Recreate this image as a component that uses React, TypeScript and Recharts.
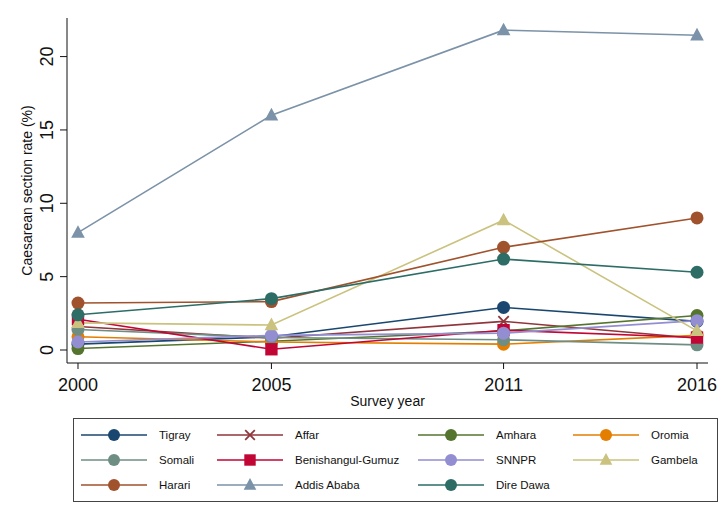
import React from 'react';
import { LineChart, Line, XAxis, YAxis } from 'recharts';

const years = [2000, 2005, 2011, 2016];
const yTicks = [0, 5, 10, 15, 20];

const tigray = [0.4, 0.9, 2.9, 1.95];
const affar = [1.6, 0.8, 1.95, 0.8];
const amhara = [0.1, 0.6, 1.3, 2.35];
const oromia = [0.9, 0.55, 0.4, 1.0];
const somali = [1.4, 0.85, 0.7, 0.35];
const benishangul = [2.1, 0.05, 1.35, 0.85];
const snnpr = [0.55, 1.0, 1.15, 2.0];
const gambela = [1.85, 1.7, 8.85, 1.3];
const harari = [3.2, 3.3, 7.0, 9.0];
const addisAbaba = [8.0, 16.0, 21.8, 21.45];
const direDawa = [2.4, 3.5, 6.2, 5.3];

type Shape = 'circle' | 'x' | 'square' | 'triangle';

const series: { key: string; name: string; values: number[]; color: string; shape: Shape }[] = [
  { key: 'tigray', name: 'Tigray', values: tigray, color: '#1a476f', shape: 'circle' },
  { key: 'affar', name: 'Affar', values: affar, color: '#90353b', shape: 'x' },
  { key: 'amhara', name: 'Amhara', values: amhara, color: '#55752f', shape: 'circle' },
  { key: 'oromia', name: 'Oromia', values: oromia, color: '#e37e00', shape: 'circle' },
  { key: 'somali', name: 'Somali', values: somali, color: '#6e8e84', shape: 'circle' },
  { key: 'benishangul', name: 'Benishangul-Gumuz', values: benishangul, color: '#c10534', shape: 'square' },
  { key: 'snnpr', name: 'SNNPR', values: snnpr, color: '#938dd2', shape: 'circle' },
  { key: 'gambela', name: 'Gambela', values: gambela, color: '#cac27e', shape: 'triangle' },
  { key: 'harari', name: 'Harari', values: harari, color: '#a0522d', shape: 'circle' },
  { key: 'addis', name: 'Addis Ababa', values: addisAbaba, color: '#7b92a8', shape: 'triangle' },
  { key: 'direDawa', name: 'Dire Dawa', values: direDawa, color: '#2d6d66', shape: 'circle' },
];

const data = years.map((year, i) => {
  const row: Record<string, number> = { year };
  series.forEach((s) => {
    row[s.key] = s.values[i];
  });
  return row;
});

const FONT = '"Liberation Sans", Arial, sans-serif';

const Marker = ({ cx, cy, shape, color, size = 6.5 }: { cx: number; cy: number; shape: Shape; color: string; size?: number }) => {
  if (shape === 'circle') return <circle cx={cx} cy={cy} r={size} fill={color} />;
  if (shape === 'square') {
    const s = size * 0.95;
    return <rect x={cx - s} y={cy - s} width={s * 2} height={s * 2} fill={color} />;
  }
  if (shape === 'triangle') {
    const s = size * 1.05;
    return (
      <polygon
        points={`${cx},${cy - s * 1.1} ${cx - s},${cy + s * 0.75} ${cx + s},${cy + s * 0.75}`}
        fill={color}
      />
    );
  }
  const s = size * 0.8;
  return (
    <g stroke={color} strokeWidth={1.8}>
      <line x1={cx - s} y1={cy - s} x2={cx + s} y2={cy + s} />
      <line x1={cx - s} y1={cy + s} x2={cx + s} y2={cy - s} />
    </g>
  );
};

// y tick labels are turned on their side, like the original
const YTick = ({ x, y, payload }: any) => (
  <text
    x={x - 5}
    y={y}
    transform={`rotate(-90 ${x - 5} ${y})`}
    textAnchor="middle"
    fontSize={18}
    fontFamily={FONT}
    fill="#111"
  >
    {payload.value}
  </text>
);

const XTick = ({ x, y, payload }: any) => (
  <text x={x} y={y + 19.5} textAnchor="middle" fontSize={18} fontFamily={FONT} fill="#111">
    {payload.value}
  </text>
);

const YTitle = () => (
  <text x={27} y={190.5} transform="rotate(-90 27 190.5)" textAnchor="middle" dominantBaseline="central" fontSize={14} fontFamily={FONT} fill="#111">
    Caesarean section rate (%)
  </text>
);

const XTitle = ({ viewBox }: any) => (
  <text x={viewBox.x + viewBox.width / 2} y={viewBox.y + 43} textAnchor="middle" fontSize={14} fontFamily={FONT} fill="#111">
    Survey year
  </text>
);

const legendCols = [8, 144, 345, 500];
const legendRows = [17, 42, 67];

const ChartLegend = () => (
  <svg width={646} height={85} style={{ position: 'absolute', left: 73, top: 418 }}>
    <rect x={0.5} y={0.5} width={644} height={83} fill="#fff" stroke="#444" strokeWidth={1} />
    {series.map((s, i) => {
      const x0 = legendCols[i % 4];
      const y0 = legendRows[Math.floor(i / 4)];
      return (
        <g key={s.key}>
          <line x1={x0} y1={y0} x2={x0 + 66} y2={y0} stroke={s.color} strokeWidth={1.5} />
          <Marker cx={x0 + 33} cy={y0} shape={s.shape} color={s.color} size={6} />
          <text x={x0 + 78} y={y0} dominantBaseline="central" fontSize={11.5} fontFamily={FONT} fill="#111">
            {s.name}
          </text>
        </g>
      );
    })}
  </svg>
);

export default function App() {
  return (
    <div style={{ position: 'absolute', left: 0, top: 0, width: 727, height: 529, background: '#fff' }}>
      <LineChart width={727} height={529} data={data} margin={{ top: 18, right: 19, left: 0, bottom: 126 }}>
        <XAxis
          dataKey="year"
          type="number"
          domain={[1999.716, 2016.284]}
          ticks={years}
          allowDataOverflow
          height={40}
          tick={<XTick />}
          tickSize={6}
          axisLine={{ stroke: '#111' }}
          tickLine={{ stroke: '#111' }}
          label={<XTitle />}
        />
        <YAxis
          type="number"
          domain={[-0.886, 22.63]}
          ticks={yTicks}
          allowDataOverflow
          width={67}
          tick={<YTick />}
          tickSize={7}
          axisLine={{ stroke: '#111' }}
          tickLine={{ stroke: '#111' }}
          label={<YTitle />}
        />
        {series.map((s) => (
          <Line
            key={s.key}
            dataKey={s.key}
            name={s.name}
            stroke={s.color}
            strokeWidth={1.6}
            isAnimationActive={false}
            dot={(p: any) => <Marker key={`${s.key}-${p.index}`} cx={p.cx} cy={p.cy} shape={s.shape} color={s.color} />}
            activeDot={false}
          />
        ))}
      </LineChart>
      <ChartLegend />
    </div>
  );
}
